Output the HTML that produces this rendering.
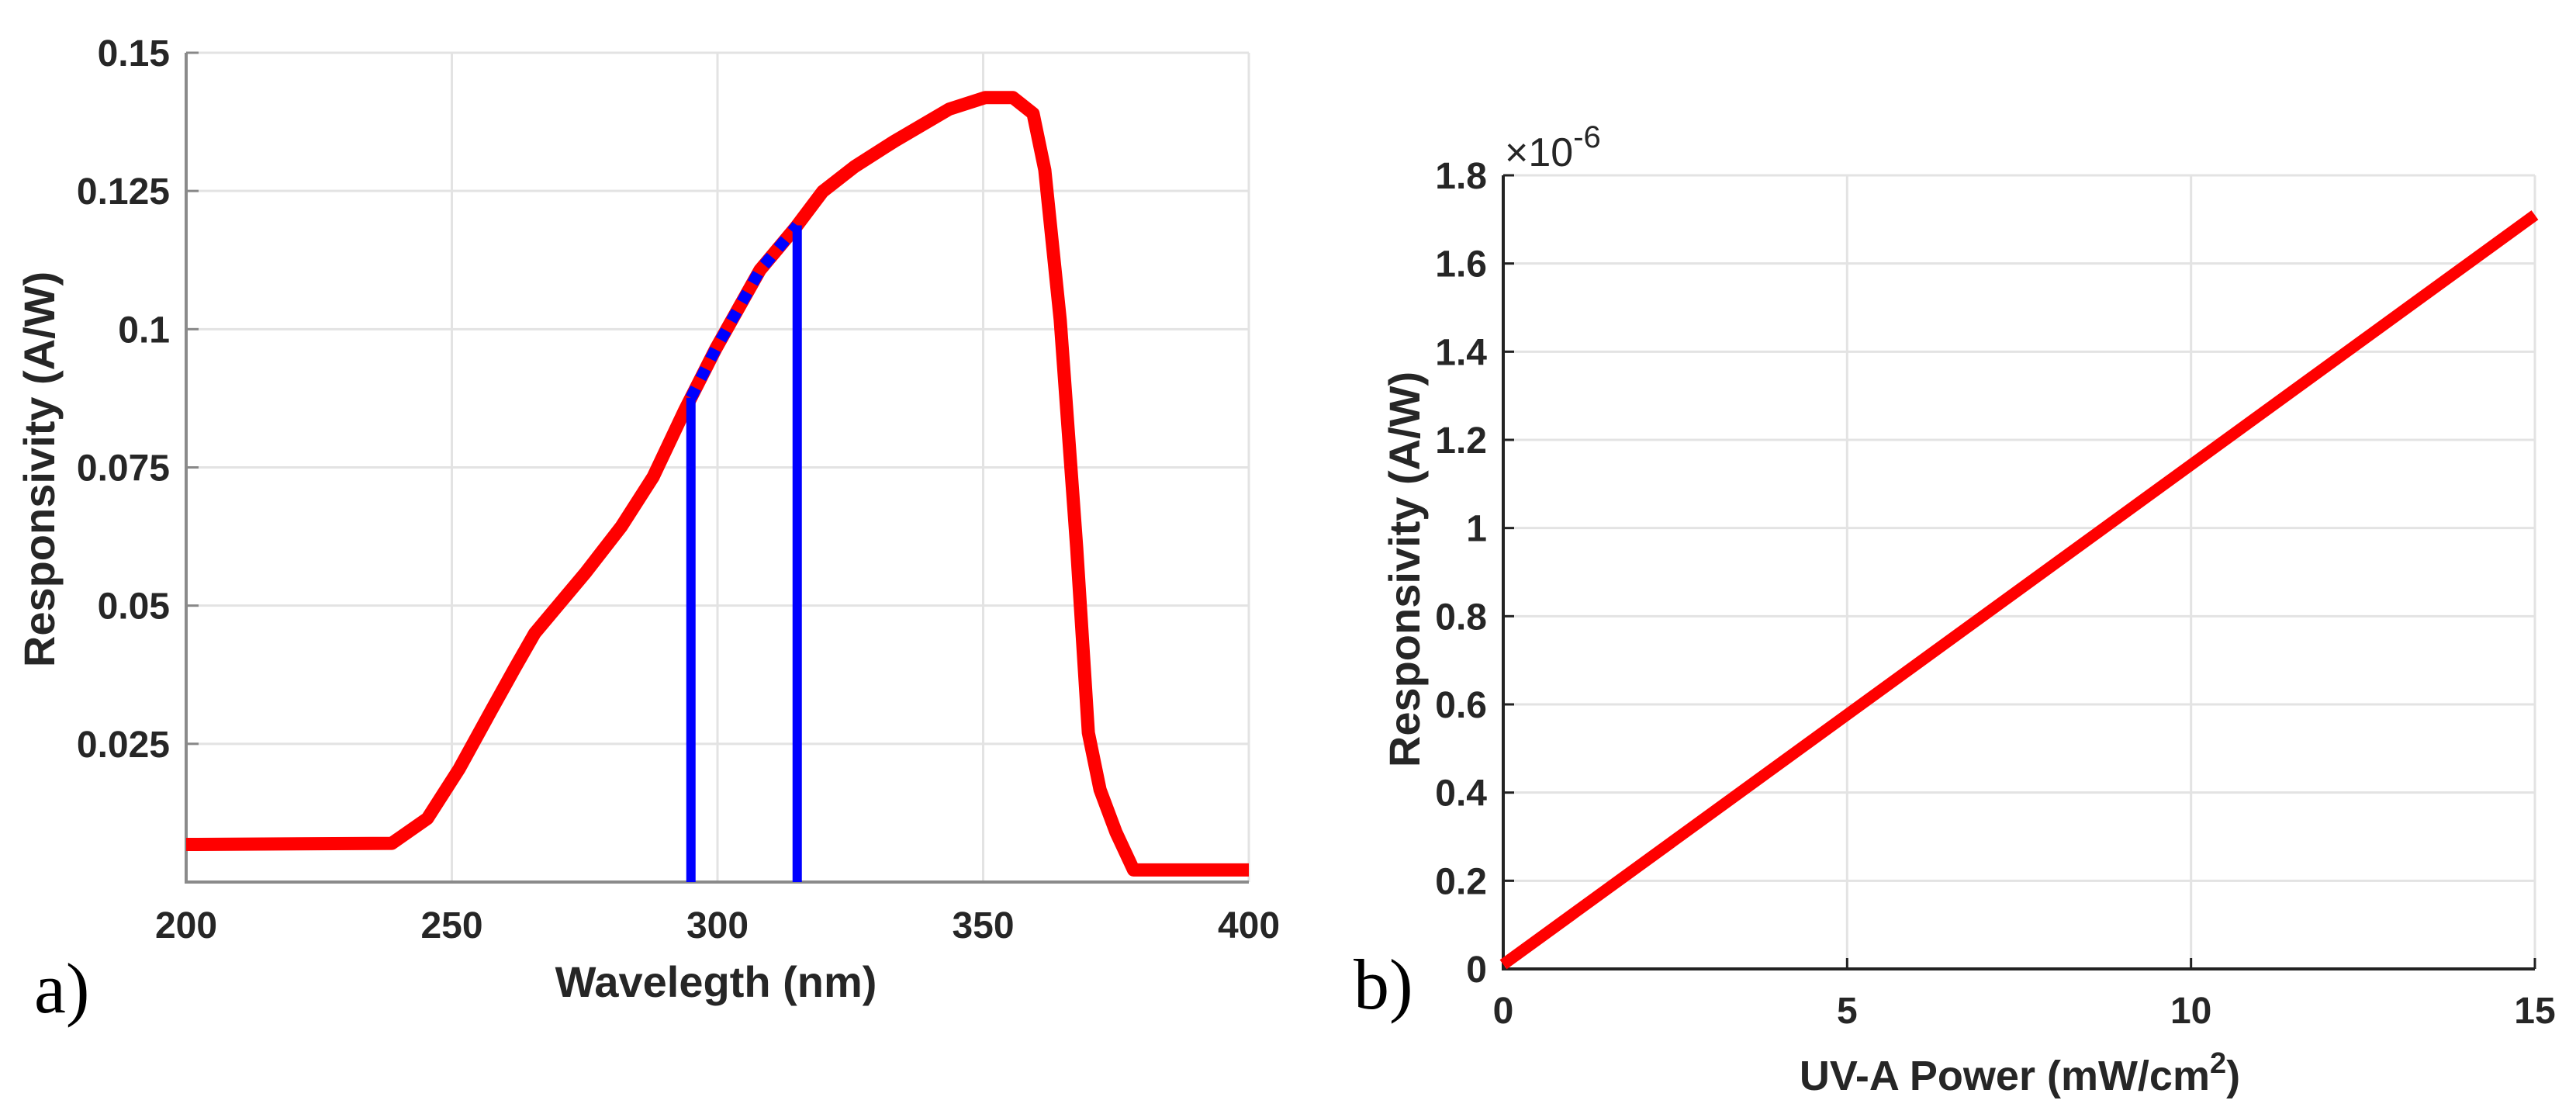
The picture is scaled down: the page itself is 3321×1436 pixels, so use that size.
<!DOCTYPE html>
<html><head><meta charset="utf-8"><style>
html,body{margin:0;padding:0;background:#fff;}
svg{display:block;font-family:"Liberation Sans",Arial,sans-serif;}
</style></head><body>
<svg id="fig" width="3321" height="1436" viewBox="0 0 3321 1436" xmlns="http://www.w3.org/2000/svg">
<g id="pa"></g>
<g id="pb"></g>
<text x="44" y="1305" font-family="Liberation Serif,serif" font-size="92">a)</text>
<text x="1745" y="1300" font-family="Liberation Serif,serif" font-size="92">b)</text>
</svg>
<script>
const waveA = [200,238.7,245.4,251.4,257.4,261.8,265.6,275.2,281.9,287.9,293.9,299.7,308,314.7,319.8,325.8,333.3,343.6,350.4,355.6,359.4,361.6,364.5,367.6,369.8,372,375,378.3,400];
const respA = [0.0068,0.007,0.0115,0.0205,0.031,0.0386,0.045,0.056,0.0643,0.0733,0.0855,0.0965,0.1107,0.1184,0.1249,0.1294,0.134,0.1398,0.1419,0.1419,0.139,0.1288,0.1017,0.0605,0.027,0.0167,0.009,0.0022,0.0022];
const bandA = [295,315];
const xTicksA = [200,250,300,350,400];
const yTicksA = [0.025,0.05,0.075,0.1,0.125,0.15];
const yTickLabelsA = ["0.025","0.05","0.075","0.1","0.125","0.15"];
const powerB = [0,15];
const respB = [0.01,1.71];
const xTicksB = [0,5,10,15];
const yTicksB = [0,0.2,0.4,0.6,0.8,1,1.2,1.4,1.6,1.8];
const yTickLabelsB = ["0","0.2","0.4","0.6","0.8","1","1.2","1.4","1.6","1.8"];

const NS="http://www.w3.org/2000/svg";
function mk(parent,tag,attrs,txt){const e=document.createElementNS(NS,tag);for(const k in attrs)e.setAttribute(k,attrs[k]);if(txt!==undefined)e.textContent=txt;parent.appendChild(e);return e;}

// ---- Panel A ----
const pa=document.getElementById('pa');
const AX0=240,AX1=1610,AY0=1137,AY1=68;
const ax=v=>AX0+(v-200)/200*(AX1-AX0);
const ay=v=>AY0-(v/0.15)*(AY0-AY1);
xTicksA.forEach(t=>{
  const g=mk(pa,'line',{x1:ax(t),x2:ax(t),y1:AY1,y2:AY0,stroke:'#e3e3e3','stroke-width':3});
  
  
  const l=mk(pa,'text',{x:ax(t),y:1209,'text-anchor':'middle','font-size':48,'font-weight':'bold',fill:'#262626'},String(t));
  
  
});
yTicksA.forEach((t,i)=>{
  const g=mk(pa,'line',{x1:AX0,x2:AX1,y1:ay(t),y2:ay(t),stroke:'#e3e3e3','stroke-width':3});
  
  
  const k=mk(pa,'line',{x1:AX0,x2:AX0+16,y1:ay(t),y2:ay(t),stroke:'#888','stroke-width':3});
  
  
  const l=mk(pa,'text',{x:219,y:ay(t)+17,'text-anchor':'end','font-size':48,'font-weight':'bold',fill:'#262626'},yTickLabelsA[i]);
  
  
});
const axa=mk(pa,'path',{d:`M${AX0},${AY1}V${AY0}H${AX1}`,fill:'none',stroke:'#8a8a8a','stroke-width':4});


const ptsA=waveA.map((w,i)=>ax(w)+','+ay(respA[i])).join(' ');
const ca=mk(pa,'polyline',{points:ptsA,fill:'none',stroke:'#ff0000','stroke-width':17,'stroke-linejoin':'round'});


function interp(w){for(let i=1;i<waveA.length;i++){if(w<=waveA[i]){const f=(w-waveA[i-1])/(waveA[i]-waveA[i-1]);return respA[i-1]+f*(respA[i]-respA[i-1]);}}return respA[respA.length-1];}
const seg=[ [bandA[0],interp(bandA[0])] ];
waveA.forEach((w,i)=>{if(w>bandA[0]&&w<bandA[1])seg.push([w,respA[i]]);});
seg.push([bandA[1],interp(bandA[1])]);
const ds=mk(pa,'polyline',{points:seg.map(p=>ax(p[0])+','+ay(p[1])).join(' '),fill:'none',stroke:'#0000ff','stroke-width':15,'stroke-dasharray':'14 14'});


bandA.forEach(b=>{
  const v=mk(pa,'line',{x1:ax(b),x2:ax(b),y1:ay(interp(b)),y2:AY0,stroke:'#0000ff','stroke-width':12});
  
  
});
const xta=mk(pa,'text',{x:923,y:1285,'text-anchor':'middle','font-size':56,'font-weight':'bold',fill:'#262626'},'Wavelegth (nm)');


const yta=mk(pa,'text',{x:0,y:0,'text-anchor':'middle','font-size':56,'font-weight':'bold',fill:'#262626',transform:'translate(70,605) rotate(-90)'},'Responsivity (A/W)');



// ---- Panel B ----
const pb=document.getElementById('pb');
const BX0=1938,BX1=3268,BY0=1249,BY1=226;
const bx=v=>BX0+v/15*(BX1-BX0);
const by=v=>BY0-v/1.8*(BY0-BY1);
xTicksB.forEach(t=>{
  const g=mk(pb,'line',{x1:bx(t),x2:bx(t),y1:BY1,y2:BY0,stroke:'#e3e3e3','stroke-width':3});
  
  
  const k=mk(pb,'line',{x1:bx(t),x2:bx(t),y1:BY0,y2:BY0-14,stroke:'#222','stroke-width':3});
  
  
  const l=mk(pb,'text',{x:bx(t),y:1319,'text-anchor':'middle','font-size':48,'font-weight':'bold',fill:'#262626'},String(t));
  
  
});
yTicksB.forEach((t,i)=>{
  const g=mk(pb,'line',{x1:BX0,x2:BX1,y1:by(t),y2:by(t),stroke:'#e3e3e3','stroke-width':3});
  
  
  const k=mk(pb,'line',{x1:BX0,x2:BX0+14,y1:by(t),y2:by(t),stroke:'#222','stroke-width':3});
  
  
  const l=mk(pb,'text',{x:1917,y:by(t)+17,'text-anchor':'end','font-size':48,'font-weight':'bold',fill:'#262626'},yTickLabelsB[i]);
  
  
});
const axb=mk(pb,'path',{d:`M${BX0},${BY1}V${BY0}H${BX1}`,fill:'none',stroke:'#222','stroke-width':4});


const cb=mk(pb,'polyline',{points:powerB.map((p,i)=>bx(p)+','+by(respB[i])).join(' '),fill:'none',stroke:'#ff0000','stroke-width':15});


const ex=mk(pb,'text',{x:1940,y:214,'font-size':52,fill:'#262626'});


ex.innerHTML='×10<tspan dy="-24" font-size="40">-6</tspan>';
const xtb=mk(pb,'text',{x:2604,y:1405,'text-anchor':'middle','font-size':54,'font-weight':'bold',fill:'#262626'});


xtb.innerHTML='UV-A Power (mW/cm<tspan dy="-22" font-size="38">2</tspan><tspan dy="22">)</tspan>';
const ytb=mk(pb,'text',{x:0,y:0,'text-anchor':'middle','font-size':56,'font-weight':'bold',fill:'#262626',transform:'translate(1830,734) rotate(-90)'},'Responsivity (A/W)');


</script>
</body></html>
